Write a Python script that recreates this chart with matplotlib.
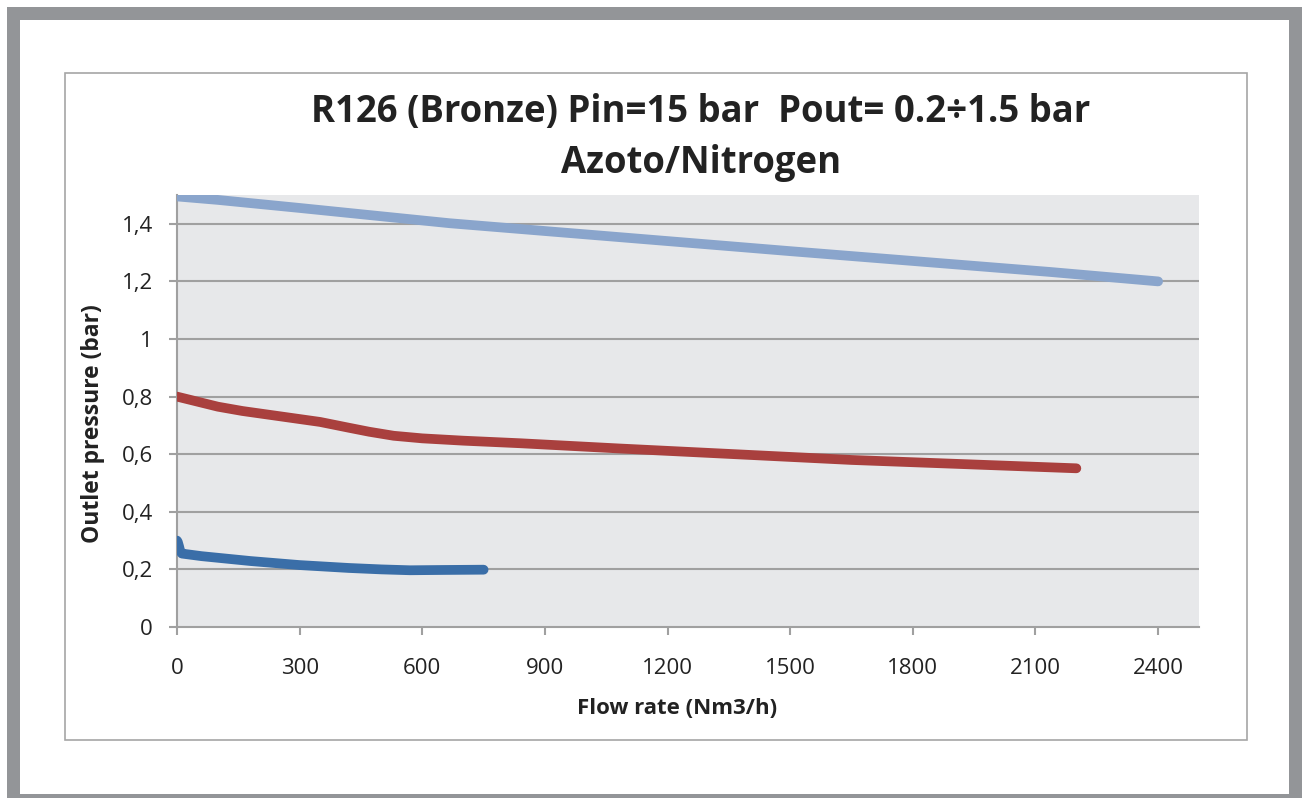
import matplotlib
matplotlib.use("Agg")
import matplotlib.pyplot as plt
from matplotlib.patches import Rectangle

W, H = 1302, 798

# Data
light_x = [0, 100, 300, 667, 1200, 1500, 2134, 2400]
light_y = [1.495, 1.483, 1.455, 1.402, 1.340, 1.305, 1.233, 1.200]

red_x = [0, 40, 100, 160, 230, 300, 350, 420, 470, 530, 600, 700, 840, 1080, 1650, 2200]
red_y = [0.800, 0.786, 0.765, 0.750, 0.736, 0.722, 0.712, 0.692, 0.678, 0.664, 0.655,
         0.647, 0.638, 0.620, 0.580, 0.551]

blue_x = [0, 2, 5, 8, 12, 60, 180, 300, 420, 500, 570, 650, 750]
blue_y = [0.300, 0.295, 0.280, 0.263, 0.255, 0.246, 0.229, 0.215, 0.205, 0.200, 0.197,
          0.198, 0.199]

x_ticks = [0, 300, 600, 900, 1200, 1500, 1800, 2100, 2400]
y_ticks = [0, 0.2, 0.4, 0.6, 0.8, 1.0, 1.2, 1.4]
y_tick_labels = ["0", "0,2", "0,4", "0,6", "0,8", "1", "1,2", "1,4"]

title1 = "R126 (Bronze) Pin=15 bar  Pout= 0.2÷1.5 bar"
title2 = "Azoto/Nitrogen"
xlabel = "Flow rate (Nm3/h)"
ylabel = "Outlet pressure (bar)"

plt.rcParams['font.family'] = ['Open Sans', 'DejaVu Sans']

fig = plt.figure(figsize=(W / 100, H / 100), dpi=100)
fig.patch.set_facecolor("white")

def fx(px):
    return px / W

def fy(py):
    return 1 - py / H

# outer gray frame
fig.patches.append(Rectangle((fx(7), 0), 1 - fx(7), fy(7), transform=fig.transFigure,
                             facecolor="#939598", edgecolor="none", zorder=-10))
fig.patches.append(Rectangle((fx(20), fy(794)), fx(1289) - fx(20), fy(20) - fy(794),
                             transform=fig.transFigure, facecolor="white", edgecolor="none", zorder=-9))
# chart area box
fig.patches.append(Rectangle((fx(65), fy(740)), fx(1247) - fx(65), fy(73) - fy(740),
                             transform=fig.transFigure, facecolor="white", edgecolor="#a6a6a6",
                             linewidth=1.2, zorder=-8))

ax = fig.add_axes([fx(177), fy(627), fx(1199) - fx(177), fy(195) - fy(627)])
ax.set_zorder(5)
ax.set_facecolor("#e7e8ea")
ax.set_xlim(0, 2500)
ax.set_ylim(0, 1.5)

grid_c = "#a0a0a0"
for yv in y_ticks[1:]:
    ax.axhline(yv, color=grid_c, linewidth=1.5, zorder=1)

lw = 7
ax.plot(light_x, light_y, color="#8aa5cc", linewidth=lw, solid_capstyle="round",
        solid_joinstyle="round", zorder=3)
ax.plot(red_x, red_y, color="#a9403e", linewidth=lw, solid_capstyle="round",
        solid_joinstyle="round", zorder=3)
ax.plot(blue_x, blue_y, color="#3a6ea8", linewidth=lw, solid_capstyle="round",
        solid_joinstyle="round", zorder=3)

for s in ["top", "right"]:
    ax.spines[s].set_visible(False)
for s in ["left", "bottom"]:
    ax.spines[s].set_color(grid_c)
    ax.spines[s].set_linewidth(1.5)
    ax.spines[s].set_zorder(2)

ax.set_xticks(x_ticks)
ax.set_xticklabels([str(v) for v in x_ticks])
ax.set_yticks(y_ticks)
ax.set_yticklabels(y_tick_labels)
ax.tick_params(axis="both", direction="out", length=5.5, width=1.5, color=grid_c,
               labelsize=16, labelcolor="#222222")
ax.tick_params(axis="x", pad=17)
ax.tick_params(axis="y", pad=12)

fig.text(fx(701), fy(112), title1, ha="center", va="center", fontsize=26.3,
         fontweight="bold", color="#222222")
fig.text(fx(701), fy(163), title2, ha="center", va="center", fontsize=26.3,
         fontweight="bold", color="#222222")

fig.text(fx(677), fy(708), xlabel, ha="center", va="center", fontsize=16,
         fontweight="bold", color="#222222")
fig.text(fx(93), fy(424), ylabel, ha="center", va="center", fontsize=16.5,
         fontweight="bold", color="#222222", rotation=90)

fig.savefig("out.png", dpi=100, facecolor=fig.get_facecolor())
